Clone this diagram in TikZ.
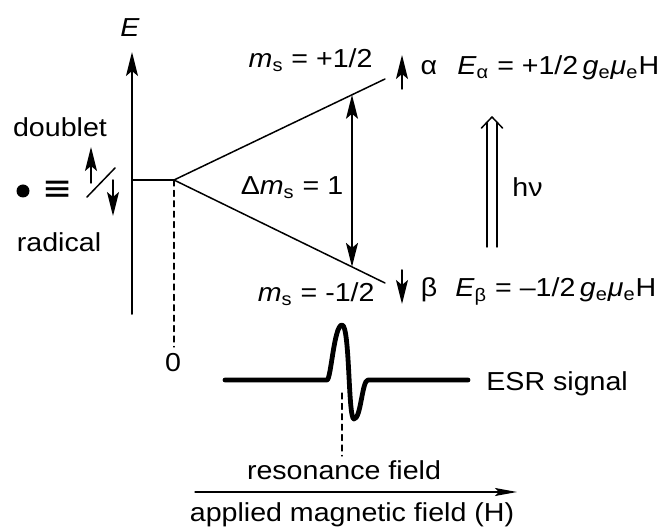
\documentclass[tikz,border=0pt]{standalone}
\usepackage{fontspec}
\setmainfont{Liberation Sans}[FakeStretch=1.1]
\newfontfamily\symfont{DejaVu Sans}
\usetikzlibrary{arrows.meta,calc}
\newcommand\lowsub[1]{\textsubscript{#1}}

\begin{document}
\begin{tikzpicture}[x=0.5pt,y=-0.5pt,>={Stealth[length=12pt,width=6pt,inset=2.5pt]},line cap=round,line join=round,
  txt/.style={inner sep=0pt,font=\fontsize{13}{15}\selectfont},
  level/.style={line width=0.75pt},
  guide/.style={line width=0.6pt,dash pattern=on 3pt off 2.2pt}]
\useasboundingbox (0,0) rectangle (660,529);
\coordinate (axbot) at (132,314);
\coordinate (axtop) at (132,52);
\coordinate (base) at (132,180);
\coordinate (zero) at (174,180);
\coordinate (up) at (385,79);
\coordinate (dn) at (385,283);
\coordinate (zbot) at (174,347);
\coordinate (res) at (342,393);
\coordinate (resbot) at (342,456);
\coordinate (hstart) at (195,492);
\coordinate (hend) at (517,492);
\node[txt,anchor=base] (Elab) at (130,37) {\textit{E}};
\draw[->,line width=1pt] (axbot) -- (axtop);
\draw[level] (base) -- (zero);
\draw[level] (zero) -- (up);
\draw[level] (zero) -- (dn);
\draw[<->,level] ($(zero)!0.8436!(up)$) -- ($(zero)!0.8436!(dn)$);
\draw[guide] (zero) -- (zbot);
\node[txt] (zlab) at (173,363) {0};
\node[txt,anchor=base] (dbl) at (60,137) {doublet};
\node[txt,anchor=base] (rad) at (59,252) {radical};
\node[circle,fill,inner sep=0pt,minimum size=6.5pt] (dot) at (23,191) {};
\node[inner sep=0pt,font=\fontsize{18}{18}\symfont] (eqv) at (58,191) {≡};
\coordinate (sl1) at (87,197);
\coordinate (sl2) at (115,168);
\draw[level] (sl1) -- (sl2);
\draw[->,level] (91,183) -- (91,147);
\draw[->,level] (113,180) -- (113,216);
\node[txt,anchor=base east] (msup) at (373,68) {\textit{m}\lowsub{s} = +1/2};
\node[txt,anchor=base east] (msdn) at (375,302) {\textit{m}\lowsub{s} = -1/2};
\node[txt,anchor=base] (dms) at (292,195) {Δ\textit{m}\lowsub{s} = 1};
\draw[->,level] (402,89) -- (402,55);
\draw[->,level] (402,270) -- (402,304);
\node[txt,anchor=base] (alph) at (429,75) {α};
\node[txt,anchor=base] (bet) at (429,297) {β};
\node[txt,anchor=base west] (Ea) at (457,75) {\textit{E}\lowsub{α} = +1/2\,\textit{g}\lowsub{e}\textit{μ}\lowsub{e}H};
\node[txt,anchor=base west] (Eb) at (455,297) {\textit{E}\lowsub{β} = –1/2\,\textit{g}\lowsub{e}\textit{μ}\lowsub{e}H};
\coordinate (hnbot) at (492,247);
\coordinate (hntip) at (492,117);
\draw[level] ($(hnbot)+(-5,0)$) -- ($(hntip)+(-5,6)$);
\draw[level] ($(hnbot)+(5,0)$) -- ($(hntip)+(5,6)$);
\draw[level] ($(hntip)+(-10.5,11)$) -- (hntip) -- ($(hntip)+(10.5,11)$);
\node[txt,anchor=west] (hnu) at (512,187) {hν};
\draw[line width=2.4pt] (225,380) -- (327,380) .. controls (331,380) and (334,325) .. (342,325)
  .. controls (350,325) and (348,419) .. (354,419) .. controls (361,419) and (362,380) .. (368,380) -- (468,380);
\node[txt,anchor=base west] (esr) at (486,391) {ESR signal};
\draw[guide] (res) -- (resbot);
\node[txt,anchor=base] (reslab) at (344,480) {resonance field};
\draw[->,line width=0.6pt,>={Stealth[length=11pt,width=4pt,inset=2pt]}] (hstart) -- (hend);
\node[txt,anchor=base] (hlab) at (352,522) {applied magnetic field (H)};
\end{tikzpicture}
\end{document}
